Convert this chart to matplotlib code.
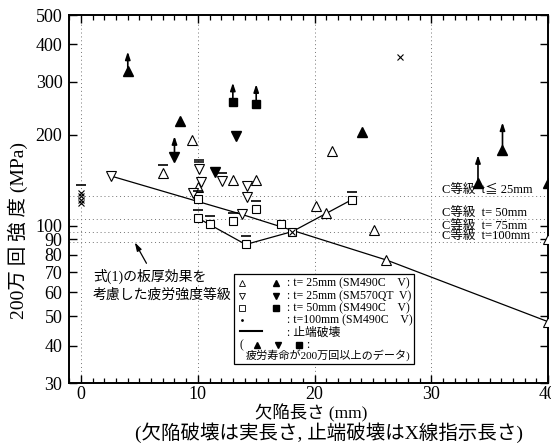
import numpy as np
import matplotlib
matplotlib.use('Agg')
import matplotlib.pyplot as plt
from matplotlib.path import Path
from matplotlib.patches import Rectangle
import matplotlib.transforms as mtransforms

plt.rcParams['font.family'] = ['Liberation Serif', 'Noto Sans CJK JP']
plt.rcParams['axes.unicode_minus'] = False

# データ (欠陥長さ mm, 200万回強度 MPa)
# t=25mm SM490C
t25_open_x = [7.0, 9.5, 10.0, 13.0, 15.0, 20.1, 21.0, 21.5, 25.1, 26.1, 40.0, 40.0]
t25_open_v = [149, 192, 134, 142, 142, 116, 110, 177, 97, 76.8, 48, 90]
t25_fill_x = [4.0, 8.5, 24.1, 34.0, 36.1, 40.0]
t25_fill_v = [326, 223, 205, 138.6, 178, 138.6]
# t=25mm SM570QT
qt_open_x = [2.6, 9.6, 10.1, 10.3, 12.1, 13.8, 14.2, 14.2]
qt_open_v = [146, 128, 154, 140, 141, 109, 135, 124.5]
qt_fill_x = [8.0, 11.5, 13.3]
qt_fill_v = [169, 151, 198]
# t=50mm SM490C
t50_open_x = [10.0, 10.0, 11.0, 13.0, 14.1, 15.0, 17.1, 18.1, 23.2]
t50_open_v = [123, 106, 101.5, 104, 86.6, 114, 101.5, 95.6, 122]
t50_fill_x = [13.0, 15.0]
t50_fill_v = [257, 254]
# t=100mm SM490C
t100_x = [0.0, 0.0, 0.0, 0.0, 18.1, 27.3]
t100_v = [119, 122, 125, 128, 95.6, 362]

# 止端破壊 (バー)
toe_x = [7.0, 12.1, 15.0, 10.0, 10.0, 11.0, 13.0, 14.1, 23.2, 0.0]
toe_v = [149, 141, 114, 123, 106, 101.5, 104, 86.6, 122, 128]
toe2_x = [10.1]
toe2_v = [154]

# 200万回以上 (矢印)
arrow_x = [4.0, 34.0, 36.1, 8.0, 13.0, 15.0]
arrow_v = [326, 138.6, 178, 169, 257, 254]
arrow_len = [14, 20, 20, 15, 14, 14]

# 板厚効果を考慮した疲労強度等級
line_x = [2.6, 13.6, 26.2, 40.0]
line_v = [146, 109.5, 76.8, 48]
# 止端破壊の折れ線
toe_line_x = [10.0, 14.1, 18.1, 23.2]
toe_line_v = [106, 86.6, 95.6, 122]

# C等級
c_vals = [125, 105, 95, 88]
c_labels = ['C等級  t≦ 25mm', 'C等級  t= 50mm', 'C等級  t= 75mm', 'C等級  t=100mm']

yticks = [30, 40, 50, 60, 70, 80, 90, 100, 200, 300, 400, 500]

fig = plt.figure(figsize=(5.51, 4.44), dpi=100)
ax = fig.add_axes([0.126, 0.137, 0.8686, 0.829])
ax.set_yscale('log')
ax.set_xlim(-1, 40)
ax.set_ylim(30, 500)

# 補助線
for xv in [0, 10, 20, 30]:
    ax.axvline(xv, color='0.45', ls=(0, (1, 3)), lw=0.7, zorder=0)
for cv in c_vals:
    ax.axhline(cv, color='0.45', ls=(0, (1, 3)), lw=0.7, zorder=0)
for cv, lab in zip(c_vals, c_labels):
    ax.annotate(lab, xy=(30.9, cv), xytext=(0, 4.5), textcoords='offset points',
                fontsize=9, va='center', ha='left', zorder=1)

# 線
ax.plot(line_x, line_v, color='k', lw=0.9, zorder=2)
ax.plot(toe_line_x, toe_line_v, color='k', lw=0.9, zorder=2)

# 矢印
for x, v, L in zip(arrow_x, arrow_v, arrow_len):
    tr = mtransforms.offset_copy(ax.transData, fig=fig, x=0, y=L, units='points')
    ax.annotate('', xy=(x, v), xycoords=tr, xytext=(x, v), textcoords='data',
                arrowprops=dict(arrowstyle='-|>,head_length=0.45,head_width=0.15',
                                color='k', lw=1.2, shrinkA=0, shrinkB=0), zorder=3)

ms = 7
ax.plot(t25_open_x, t25_open_v, '^', ms=ms, mfc='white', mec='k', mew=0.8, ls='none', zorder=4)
ax.plot(t25_fill_x, t25_fill_v, '^', ms=ms, mfc='k', mec='k', ls='none', zorder=4)
ax.plot(qt_open_x, qt_open_v, 'v', ms=ms, mfc='white', mec='k', mew=0.8, ls='none', zorder=4)
ax.plot(qt_fill_x, qt_fill_v, 'v', ms=ms, mfc='k', mec='k', ls='none', zorder=4)
ax.plot(t50_open_x, t50_open_v, 's', ms=6, mfc='white', mec='k', mew=0.8, ls='none', zorder=4)
ax.plot(t50_fill_x, t50_fill_v, 's', ms=6, mfc='k', mec='k', ls='none', zorder=4)
ax.plot(t100_x, t100_v, 'x', ms=5, mec='k', mew=0.8, ls='none', zorder=5)

bar1 = Path([(-0.6, 1.0), (0.6, 1.0)], [Path.MOVETO, Path.LINETO])
bar2 = Path([(-0.6, 0.75), (0.6, 0.75), (-0.6, 1.0), (0.6, 1.0)],
            [Path.MOVETO, Path.LINETO, Path.MOVETO, Path.LINETO])
ax.plot(toe_x, toe_v, marker=bar1, ms=12, mec='k', mew=1.2, ls='none', zorder=5)
ax.plot(toe2_x, toe2_v, marker=bar2, ms=13, mec='k', mew=1.1, ls='none', zorder=5)

# 注記
ax.annotate('', xy=(4.6, 88), xytext=(5.6, 75),
            arrowprops=dict(arrowstyle='-|>,head_length=0.5,head_width=0.15',
                            color='k', lw=0.9, shrinkA=0, shrinkB=0))
ax.text(1.0, 68, '式(1)の板厚効果を', fontsize=10, va='center', ha='left')
ax.text(1.0, 59, '考慮した疲労強度等級', fontsize=10, va='center', ha='left')

# 凡例 (手描き)
W, H = 478.5, 368.0
def fx(px):
    return (px - 69.5) / W
def fy(py):
    return (383 - py) / H

ax.add_patch(Rectangle((fx(234), fy(364)), fx(414) - fx(234), fy(274) - fy(364),
                       transform=ax.transAxes, fc='white', ec='k', lw=0.9, zorder=6))
rows = [('^', 't= 25mm (SM490C    V)'), ('v', 't= 25mm (SM570QT  V)'),
        ('s', 't= 50mm (SM490C    V)')]
row_y = [283, 296, 308, 320, 333, 345, 356]
fs_leg = 8.5
for (mk, lab), py in zip(rows, row_y):
    ax.plot([fx(242)], [fy(py)], mk, ms=4, mfc='white', mec='k', mew=0.6,
            transform=ax.transAxes, zorder=7, clip_on=False)
    ax.plot([fx(276)], [fy(py)], mk, ms=4, mfc='k', mec='k',
            transform=ax.transAxes, zorder=7, clip_on=False)
    ax.text(fx(287), fy(py), ': ' + lab, fontsize=fs_leg, va='center', ha='left',
            transform=ax.transAxes, zorder=7)
ax.plot([fx(242)], [fy(row_y[3])], '.', ms=2, color='k', transform=ax.transAxes, zorder=7)
ax.text(fx(287), fy(row_y[3]), ': t=100mm (SM490C    V)', fontsize=fs_leg, va='center',
        ha='left', transform=ax.transAxes, zorder=7)
ax.plot([fx(240), fx(262)], [fy(row_y[4] - 2)] * 2, color='k', lw=1.5,
        transform=ax.transAxes, zorder=7)
ax.text(fx(287), fy(row_y[4]), ': 止端破壊', fontsize=fs_leg, va='center', ha='left',
        transform=ax.transAxes, zorder=7)
ax.text(fx(240), fy(row_y[5]), '(', fontsize=fs_leg, va='center', ha='left',
        transform=ax.transAxes, zorder=7)
for mk, px in zip(['^', 'v', 's'], [257, 278, 299]):
    ax.plot([fx(px)], [fy(row_y[5])], mk, ms=4, mfc='k', mec='k',
            transform=ax.transAxes, zorder=7)
ax.text(fx(306), fy(row_y[5]), ':', fontsize=fs_leg, va='center', ha='left',
        transform=ax.transAxes, zorder=7)
ax.text(fx(246), fy(row_y[6]), '疲労寿命が200万回以上のデータ)', fontsize=8, va='center',
        ha='left', transform=ax.transAxes, zorder=7)

# 軸
ax.set_yticks(yticks)
ax.set_yticklabels([str(t) for t in yticks])
ax.yaxis.set_minor_locator(matplotlib.ticker.NullLocator())
ax.set_xticks([0, 10, 20, 30, 40])
ax.set_xticks(np.arange(-1, 41, 1), minor=True)
ax.tick_params(which='both', direction='in', top=True, right=True, labelsize=13)
ax.tick_params(which='major', length=6, width=1.0)
ax.tick_params(which='minor', length=3.5, width=0.9)
ax.tick_params(axis='x', pad=2)
ax.tick_params(axis='y', pad=5)
for s in ax.spines.values():
    s.set_linewidth(1.4)

fig.text(18 / 551, 1 - 230 / 444, '200万 回 強 度 (MPa)', rotation=90, fontsize=14,
         va='center', ha='center')
fig.text(311 / 551, 1 - 413 / 444, '欠陥長さ (mm)', fontsize=12.5, va='center', ha='center')
fig.text(329 / 551, 1 - 433 / 444, '(欠陥破壊は実長さ, 止端破壊はX線指示長さ)', fontsize=14,
         va='center', ha='center')

fig.savefig('out.png', dpi=100)
